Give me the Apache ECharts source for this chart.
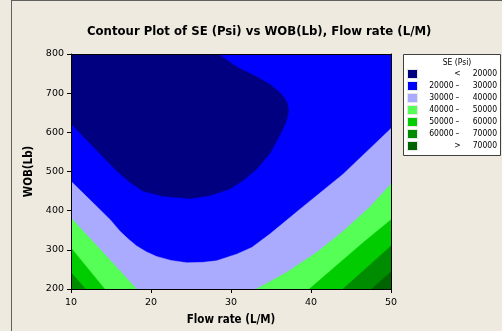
<!DOCTYPE html>
<html>
<head>
<meta charset="utf-8">
<title>Contour Plot of SE (Psi)</title>
<script src="https://cdn.jsdelivr.net/npm/echarts@6/dist/echarts.min.js"></script>
<style>
  html, body { margin: 0; padding: 0; background: #EEEAE0; }
  #chart { width: 502px; height: 331px; }
</style>
</head>
<body>
<div id="chart"></div>
<script>
// Axis ranges and ticks
const flowRange = [10, 50];
const wobRange = [200, 800];
const flowTicks = [10, 20, 30, 40, 50];
const wobTicks = [200, 300, 400, 500, 600, 700, 800];

// Contour levels of SE (Psi) and the fill colour of each band (lowest band first)
const levels = [20000, 30000, 40000, 50000, 60000, 70000];
const bandColors = ['#000080', '#0000FF', '#AAAAFF', '#55FF55', '#00CC00', '#008C00', '#006400'];

// Contour lines, as [Flow rate, WOB] points
const se20000 = [[10, 622], [15.7, 502], [17.4, 472], [19.0, 450], [21.5, 437], [24.9, 431], [27.4, 439],
  [29.9, 456], [31.5, 477], [33.2, 506], [34.9, 547], [36.1, 593], [36.7, 618], [37.0, 635], [37.2, 656],
  [37.0, 677], [36.5, 692], [36.1, 702], [34.9, 722], [33.2, 742], [30.7, 767], [28.4, 800]];
const se30000 = [[10, 475], [12.4, 427], [14.9, 377], [16.1, 348], [17.2, 327], [18.2, 310], [19.4, 295],
  [20.7, 283], [22.5, 273], [24.5, 267], [26.5, 268], [28.2, 272], [30.7, 289], [32.6, 306], [34.9, 341],
  [39.0, 410], [44.0, 493], [50, 610]];
const se40000Left = [[10, 381], [14.1, 291], [18.2, 200]];
const se40000Right = [[33.2, 200], [37.0, 243], [40.7, 293], [44.0, 347], [47.4, 410], [50, 468]];
const se50000Left = [[10, 305], [14.2, 200]];
const se50000Right = [[39.8, 200], [43.2, 260], [46.5, 318], [50, 377]];
const se60000Left = [[10, 242], [11.8, 200]];
const se60000Right = [[44.0, 200], [47.0, 255], [50, 310]];
const se70000Right = [[47.6, 200], [50, 244]];

const FONT = "'DejaVu Sans Condensed', 'DejaVu Sans', sans-serif";
const TICK_FONT = "'DejaVu Sans', sans-serif";

const xMin = flowRange[0], xMax = flowRange[1], yMin = wobRange[0], yMax = wobRange[1];

// Each filled region is the area on the high side of a contour line, closed along the plot edges
const regions = [
  { color: bandColors[1], pts: [[xMin, yMin], [xMax, yMin], [xMax, yMax], [xMin, yMax]] },
  { color: bandColors[0], pts: se20000.concat([[xMin, yMax]]) },
  { color: bandColors[2], pts: se30000.concat([[xMax, yMin], [xMin, yMin]]) },
  { color: bandColors[3], pts: se40000Left.concat([[xMin, yMin]]) },
  { color: bandColors[3], pts: se40000Right.concat([[xMax, yMin]]) },
  { color: bandColors[4], pts: se50000Left.concat([[xMin, yMin]]) },
  { color: bandColors[4], pts: se50000Right.concat([[xMax, yMin]]) },
  { color: bandColors[5], pts: se60000Left.concat([[xMin, yMin]]) },
  { color: bandColors[5], pts: se60000Right.concat([[xMax, yMin]]) },
  { color: bandColors[6], pts: se70000Right.concat([[xMax, yMin]]) }
];

const regionSeries = regions.map(function (r) {
  return {
    type: 'custom',
    coordinateSystem: 'cartesian2d',
    silent: true,
    clip: true,
    encode: { x: 0, y: 1 },
    data: r.pts,
    renderItem: function (params, api) {
      if (params.dataIndex !== 0) return null;
      const points = r.pts.map(function (p) { return api.coord(p); });
      return { type: 'polygon', shape: { points: points }, style: { fill: r.color, stroke: r.color, lineWidth: 0.5 } };
    }
  };
});

// Legend: swatch plus range text for every band
const legendLeft = 403.5, legendTop = 54.5, rowTop = 74, rowStep = 12;
const legendItems = [
  { type: 'rect', shape: { x: legendLeft, y: legendTop, width: 97, height: 101 },
    style: { fill: '#FFFFFF', stroke: '#404040', lineWidth: 1 } },
  { type: 'text', x: 457, y: 63, style: { text: 'SE (Psi)', font: '8.5px ' + FONT, fill: '#000',
    textAlign: 'center', textVerticalAlign: 'middle' } }
];
bandColors.forEach(function (c, i) {
  const cy = rowTop + i * rowStep;
  legendItems.push({ type: 'rect', shape: { x: 407.5, y: cy - 4.5, width: 10, height: 9 },
    style: { fill: c, stroke: '#E8E8E8', lineWidth: 1 } });
  let lo = '', mid, hi;
  if (i === 0) { mid = '<'; hi = levels[0]; }
  else if (i === bandColors.length - 1) { mid = '>'; hi = levels[levels.length - 1]; }
  else { lo = levels[i - 1]; mid = '\u2013'; hi = levels[i]; }
  if (lo !== '') legendItems.push({ type: 'text', x: 453.5, y: cy, style: { text: String(lo),
    font: '8.5px ' + FONT, fill: '#000', textAlign: 'right', textVerticalAlign: 'middle' } });
  legendItems.push({ type: 'text', x: 457.5, y: cy, style: { text: mid, font: '8.5px ' + FONT, fill: '#000',
    textAlign: 'center', textVerticalAlign: 'middle' } });
  legendItems.push({ type: 'text', x: 497, y: cy, style: { text: String(hi), font: '8.5px ' + FONT, fill: '#000',
    textAlign: 'right', textVerticalAlign: 'middle' } });
});

const chart = echarts.init(document.getElementById('chart'), null, { renderer: 'canvas' });

const axisText = { color: '#000', fontFamily: TICK_FONT, fontSize: 9.5 };
const nameText = { color: '#000', fontFamily: FONT, fontSize: 11.5, fontWeight: 'bold' };

chart.setOption({
  backgroundColor: '#EEEAE0',
  animation: false,
  title: {
    text: 'Contour Plot of SE (Psi) vs WOB(Lb), Flow rate (L/M)',
    left: 87, top: 25, padding: 0,
    textStyle: { color: '#000', fontFamily: FONT, fontSize: 13, fontWeight: 'bold' }
  },
  grid: { left: 71, right: 111, top: 54, bottom: 37, containLabel: false },
  xAxis: [{
    type: 'value', min: xMin, max: xMax, interval: 10, z: 10,
    name: 'Flow rate (L/M)', nameLocation: 'middle', nameGap: 25, nameTextStyle: nameText,
    axisLine: { show: true, onZero: false, lineStyle: { color: '#000', width: 1 } },
    axisTick: { show: true, length: 4, inside: false, lineStyle: { color: '#000' } },
    axisLabel: Object.assign({ margin: 9, formatter: function (v) { return flowTicks.indexOf(v) >= 0 ? String(v) : ''; } }, axisText),
    splitLine: { show: false }
  }, {
    type: 'value', min: xMin, max: xMax, position: 'top', z: 10,
    axisLine: { show: true, onZero: false, lineStyle: { color: '#000', width: 1 } },
    axisTick: { show: false }, axisLabel: { show: false }, splitLine: { show: false }
  }],
  yAxis: [{
    type: 'value', min: yMin, max: yMax, interval: 100, z: 10,
    name: 'WOB(Lb)', nameLocation: 'middle', nameGap: 28, nameTextStyle: nameText,
    axisLine: { show: true, onZero: false, lineStyle: { color: '#000', width: 1 } },
    axisTick: { show: true, length: 4, inside: false, lineStyle: { color: '#000' } },
    axisLabel: Object.assign({ margin: 7, formatter: function (v) { return wobTicks.indexOf(v) >= 0 ? String(v) : ''; } }, axisText),
    splitLine: { show: false }
  }, {
    type: 'value', min: yMin, max: yMax, position: 'right', z: 10,
    axisLine: { show: true, onZero: false, lineStyle: { color: '#000', width: 1 } },
    axisTick: { show: false }, axisLabel: { show: false }, splitLine: { show: false }
  }],
  graphic: [
    { type: 'line', shape: { x1: 11.5, y1: 0, x2: 11.5, y2: 331 }, style: { stroke: '#606060', lineWidth: 1 }, z: 20 },
    { type: 'line', shape: { x1: 11, y1: 0.5, x2: 502, y2: 0.5 }, style: { stroke: '#606060', lineWidth: 1 }, z: 20 },
    { type: 'group', children: legendItems, z: 20 }
  ],
  series: regionSeries
});
</script>
</body>
</html>
